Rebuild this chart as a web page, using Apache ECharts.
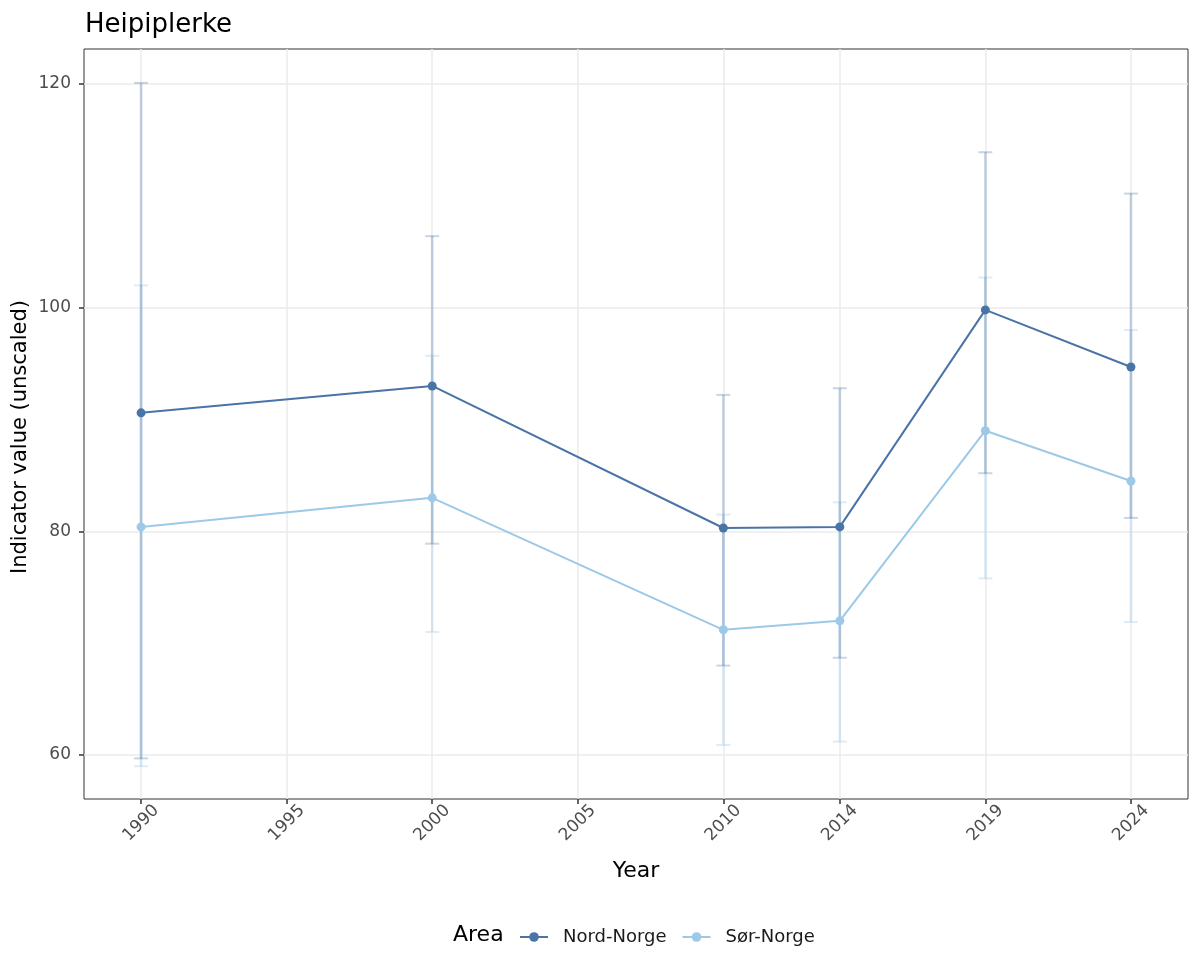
<!DOCTYPE html>
<html>
<head>
<meta charset="utf-8">
<script src="https://cdn.jsdelivr.net/npm/echarts@6/dist/echarts.min.js"></script>
<style>html,body{margin:0;padding:0;background:#fff}#chart{width:1200px;height:975px}</style>
</head>
<body>
<div id="chart"></div>
<script>
const years = [1990, 2000, 2010, 2014, 2019, 2024];
const nordValues = [90.6, 93.0, 80.3, 80.4, 99.8, 94.7];
const nordLower = [59.7, 78.9, 68.0, 68.7, 85.2, 81.2];
const nordUpper = [120.1, 106.4, 92.2, 92.8, 113.9, 110.2];
const sorValues = [80.4, 83.0, 71.2, 72.0, 89.0, 84.5];
const sorLower = [59.0, 71.0, 60.9, 61.2, 75.8, 71.9];
const sorUpper = [102.0, 95.7, 81.5, 82.6, 102.7, 98.0];
const xTicks = [1990, 1995, 2000, 2005, 2010, 2014, 2019, 2024];
const yTicks = [60, 80, 100, 120];
const seriesNames = ['Nord-Norge', 'Sør-Norge'];

const FONT = 'DejaVu Sans';
const nordColor = '#4A74A6';
const sorColor = '#9DC9E8';

function errBar(color) {
  return function (params, api) {
    const x = api.value(0), lo = api.value(1), hi = api.value(2);
    const a = api.coord([x, lo]);
    const b = api.coord([x, hi]);
    const hw = 7;
    return {
      type: 'group',
      children: [
        { type: 'line', shape: { x1: a[0], y1: a[1], x2: b[0], y2: b[1] }, style: { stroke: color, lineWidth: 2.6 } },
        { type: 'line', shape: { x1: a[0] - hw, y1: a[1], x2: a[0] + hw, y2: a[1] }, style: { stroke: color, lineWidth: 2 } },
        { type: 'line', shape: { x1: b[0] - hw, y1: b[1], x2: b[0] + hw, y2: b[1] }, style: { stroke: color, lineWidth: 2 } }
      ]
    };
  };
}

const chart = echarts.init(document.getElementById('chart'), null, { renderer: 'canvas' });
chart.setOption({
  animation: false,
  backgroundColor: '#fff',
  textStyle: { fontFamily: FONT },
  title: {
    text: 'Heipiplerke', left: 80, top: 7,
    textStyle: { fontFamily: FONT, fontSize: 26, fontWeight: 'normal', color: '#000' }
  },
  grid: { left: 84, right: 12, top: 49, bottom: 176, show: true, borderColor: '#333', borderWidth: 1, backgroundColor: 'transparent', containLabel: false, outerBoundsMode: 'none' },
  legend: {
    data: seriesNames, left: 514, top: 923, itemWidth: 28, itemHeight: 12, itemGap: 15,
    textStyle: { fontFamily: FONT, fontSize: 18, color: '#1a1a1a', padding: [0, 0, 0, 10] }
  },
  graphic: [
    {
      type: 'text', x: 453, y: 935,
      style: { text: 'Area', font: '22px "DejaVu Sans"', fill: '#000', verticalAlign: 'middle' }
    },
    {
      type: 'text', x: 21, y: 437, rotation: Math.PI / 2,
      style: { text: 'Indicator value (unscaled)', font: '21px "DejaVu Sans"', fill: '#000', align: 'center', verticalAlign: 'middle' }
    }
  ],
  xAxis: {
    type: 'value', min: 1988.04, max: 2025.96,
    name: 'Year', nameLocation: 'middle', nameGap: 72,
    nameTextStyle: { fontFamily: FONT, fontSize: 22, color: '#000', verticalAlign: 'middle' },
    axisLine: { show: false },
    axisTick: { show: true, customValues: xTicks, length: 5, lineStyle: { color: '#333', width: 1.5 } },
    axisLabel: { customValues: xTicks, rotate: 45, align: 'center', verticalAlign: 'middle', margin: 24, fontFamily: FONT, fontSize: 17, color: '#4D4D4D', formatter: v => String(v) },
    splitLine: { show: true, lineStyle: { color: '#EBEBEB', width: 1.5 } }
  },
  yAxis: {
    type: 'value', min: 56.07, max: 123.13,
    axisLine: { show: false },
    axisTick: { show: true, customValues: yTicks, length: 5, lineStyle: { color: '#333', width: 1.5 } },
    axisLabel: { customValues: yTicks, margin: 13, fontFamily: FONT, fontSize: 17, color: '#4D4D4D', formatter: v => String(v) },
    splitLine: { show: true, lineStyle: { color: '#EBEBEB', width: 1.5 } }
  },
  series: [
    {
      type: 'custom', name: 'sorErr', z: 2, silent: true,
      renderItem: errBar('rgba(157,201,232,0.35)'),
      encode: { x: 0, y: [1, 2] },
      data: years.map((y, i) => [y, sorLower[i], sorUpper[i]])
    },
    {
      type: 'custom', name: 'nordErr', z: 2, silent: true,
      renderItem: errBar('rgba(74,116,166,0.3)'),
      encode: { x: 0, y: [1, 2] },
      data: years.map((y, i) => [y, nordLower[i], nordUpper[i]])
    },
    {
      type: 'line', name: seriesNames[0], z: 3, color: nordColor,
      symbol: 'circle', symbolSize: 9, showSymbol: true,
      lineStyle: { width: 2, color: nordColor }, itemStyle: { color: nordColor },
      data: years.map((y, i) => [y, nordValues[i]])
    },
    {
      type: 'line', name: seriesNames[1], z: 3, color: sorColor,
      symbol: 'circle', symbolSize: 9, showSymbol: true,
      lineStyle: { width: 2, color: sorColor }, itemStyle: { color: sorColor },
      data: years.map((y, i) => [y, sorValues[i]])
    }
  ]
});
</script>
</body>
</html>
